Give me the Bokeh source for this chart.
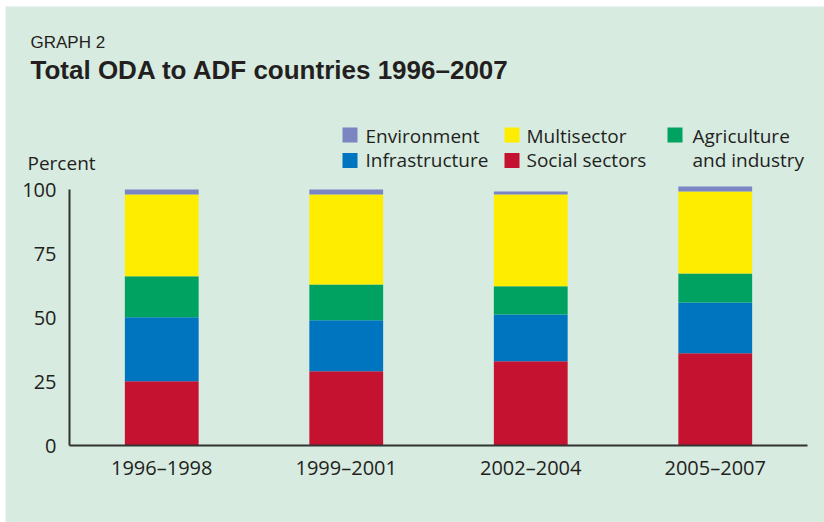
from bokeh.plotting import figure
from bokeh.models import Range1d, Label, FixedTicker, ColumnDataSource, Spacer
from bokeh.layouts import column, row
from bokeh.embed import file_html
from bokeh.resources import INLINE

# ---- data ----
periods = ["1996–1998", "1999–2001", "2002–2004", "2005–2007"]
social = [25.1, 29.0, 32.9, 36.0]
infrastructure = [25.0, 19.9, 18.3, 19.9]
agriculture = [16.0, 14.0, 11.0, 11.3]
multisector = [31.9, 35.1, 35.8, 32.0]
environment = [2.0, 2.0, 1.2, 2.0]
y_ticks = [0, 25, 50, 75, 100]

keys = ["social", "infrastructure", "agriculture", "multisector", "environment"]
colors = ["#c41230", "#0075bf", "#00a261", "#ffed00", "#7a85c1"]

BG = "#d7ebe0"
TXT = "#231f20"

# page geometry (canvas placed at page offset OX, OY)
OX, OY = 5, 6
W, H = 824 - OX, 522 - OY
AXIS_X, AXIS_RIGHT, ZERO_Y, PX_PER_UNIT = 69, 807, 445, 2.56
CAT_PX = (AXIS_RIGHT - AXIS_X) / len(periods)


def dx(page_x):
    return (page_x - AXIS_X) / CAT_PX


def dy(page_y):
    return (ZERO_Y - page_y) / PX_PER_UNIT


xpos = [i + 0.5 for i in range(len(periods))]
source = ColumnDataSource(dict(x=xpos, social=social, infrastructure=infrastructure,
                               agriculture=agriculture, multisector=multisector,
                               environment=environment))

p = figure(x_range=Range1d(dx(OX), dx(OX + W)), y_range=Range1d(dy(OY + H), dy(OY)),
           width=W, height=H, output_backend="svg", toolbar_location=None,
           min_border=0, background_fill_color=BG, border_fill_color=BG,
           outline_line_color=None)

p.vbar_stack(keys, x="x", width=0.4, color=colors, line_color=None, source=source)

p.xgrid.visible = False
p.ygrid.visible = False

for ax in (p.xaxis[0], p.yaxis[0]):
    ax.major_tick_line_color = None
    ax.minor_tick_line_color = None
    ax.major_tick_out = 0
    ax.major_tick_in = 0
    ax.minor_tick_out = 0
    ax.minor_tick_in = 0
    ax.axis_line_color = "#333333"
    ax.axis_line_width = 2
    ax.major_label_text_font = "Open Sans"
    ax.major_label_text_font_size = "20px"
    ax.major_label_text_color = TXT

xa = p.xaxis[0]
xa.fixed_location = 0
xa.bounds = (0, len(periods))
xa.ticker = FixedTicker(ticks=xpos)
xa.major_label_overrides = {x: lab for x, lab in zip(xpos, periods)}
xa.major_label_standoff = 8

ya = p.yaxis[0]
ya.fixed_location = 0
ya.ticker = FixedTicker(ticks=y_ticks)
ya.bounds = (0, 100)
ya.major_label_standoff = 13


def add_text(px, pbase, text, size, font="Open Sans", style="normal"):
    p.add_layout(Label(x=dx(px), y=dy(pbase - 0.4 * size), text=text, text_font=font,
                       text_font_style=style, text_font_size=f"{size}px",
                       text_color=TXT, text_baseline="alphabetic"))


# titles
add_text(30, 49, "GRAPH 2", 17, font="Liberation Sans")
add_text(30, 80, "Total ODA to ADF countries 1996–2007", 26, font="Liberation Sans", style="bold")
add_text(27, 170, "Percent", 19)

# legend (manual layout)
legend_items = [
    ("Environment", colors[4], 349.5, 134.5, 365, 143),
    ("Infrastructure", colors[1], 349.5, 160, 365, 167),
    ("Multisector", colors[3], 511.5, 134.5, 526, 143),
    ("Social sectors", colors[0], 511.5, 160, 526, 167),
    ("Agriculture", colors[2], 674.5, 134.5, 692, 143),
]
p.scatter(x=[dx(it[2]) for it in legend_items], y=[dy(it[3]) for it in legend_items],
          marker="square", size=15, color=[it[1] for it in legend_items], line_color=None)
for name, _, _, _, tx, ty in legend_items:
    add_text(tx, ty, name, 19)
add_text(692, 167, "and industry", 19)

layout = column(Spacer(height=OY), row(Spacer(width=OX), p))
open("out.html", "w").write(file_html(layout, INLINE))
